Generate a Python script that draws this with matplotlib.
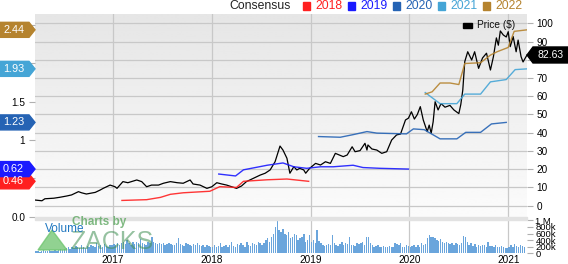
import matplotlib
matplotlib.use('Agg')
import matplotlib.pyplot as plt
import numpy as np
from matplotlib.patches import Polygon, Rectangle

plt.rcParams['font.family'] = ['Liberation Sans', 'DejaVu Sans']

# 价格 (decimal year, $)
price_t = [2016.21, 2016.28, 2016.31, 2016.40, 2016.46, 2016.53, 2016.58, 2016.65, 2016.68, 2016.73,
           2016.82, 2016.87, 2016.90, 2016.97, 2017.02, 2017.04, 2017.10, 2017.15, 2017.24, 2017.29,
           2017.34, 2017.39, 2017.46, 2017.51, 2017.58, 2017.65, 2017.71, 2017.78, 2017.81, 2017.88,
           2017.95, 2018.00, 2018.05, 2018.10, 2018.15, 2018.20, 2018.25, 2018.30, 2018.35, 2018.42,
           2018.49, 2018.54, 2018.59, 2018.64, 2018.69, 2018.72, 2018.76, 2018.79, 2018.83, 2018.86,
           2018.89, 2018.93, 2018.95, 2018.99, 2019.05, 2019.10, 2019.15, 2019.20, 2019.25, 2019.33,
           2019.37, 2019.42, 2019.45, 2019.50, 2019.55, 2019.57, 2019.58, 2019.62, 2019.67, 2019.72,
           2019.77, 2019.82, 2019.87, 2019.91, 2019.96, 2019.99, 2020.02, 2020.05, 2020.08, 2020.11,
           2020.14, 2020.18, 2020.20, 2020.22, 2020.24, 2020.26, 2020.29, 2020.32, 2020.36, 2020.41,
           2020.45, 2020.50, 2020.52, 2020.54, 2020.56, 2020.59, 2020.63, 2020.66, 2020.70, 2020.74,
           2020.78, 2020.82, 2020.85, 2020.88, 2020.90, 2020.92, 2020.95, 2020.98, 2021.00, 2021.02,
           2021.05, 2021.08, 2021.10, 2021.13, 2021.15, 2021.19]
price_v = [3.1, 2.7, 3.8, 4.1, 4.6, 5.3, 5.9, 7.7, 7.1, 6.4,
           7.3, 8.6, 9.5, 11.3, 10.4, 9.5, 13.2, 12.6, 14.1, 13.2,
           10.4, 11.3, 11.3, 12.3, 13.2, 12.6, 12.3, 14.1, 11.9, 11.3,
           9.5, 10.4, 12.6, 11.9, 11.3, 10.4, 9.5, 10.8, 13.2, 15.0,
           16.8, 17.8, 19.6, 24.1, 32.7, 30.5, 26.0, 17.8, 21.4, 19.6,
           20.5, 19.6, 17.8, 20.5, 23.2, 22.3, 24.1, 23.2, 28.7, 26.9,
           27.8, 32.3, 29.6, 30.2, 34.2, 30.5, 33.3, 31.1, 30.5, 28.7,
           29.6, 36.0, 38.8, 39.3, 47.0, 48.0, 51.5, 47.5, 50.0, 54.3,
           47.0, 40.6, 44.2, 39.7, 46.0, 57.0, 52.5, 56.0, 54.0, 55.0,
           52.5, 50.5, 55.5, 63.4, 79.0, 84.4, 79.9, 84.4, 75.3, 81.0,
           83.6, 74.4, 81.7, 92.0, 88.0, 95.8, 93.6, 92.5, 95.4, 87.2,
           92.7, 84.4, 90.8, 81.7, 78.8, 82.63]

# 一致预期 EPS
c18_t = [2017.09, 2017.34, 2017.48, 2017.58, 2017.71, 2017.98, 2018.08, 2018.25, 2018.32, 2018.56, 2018.76, 2018.98]
c18_v = [0.21, 0.22, 0.25, 0.29, 0.31, 0.33, 0.39, 0.38, 0.46, 0.48, 0.49, 0.46]
c19_t = [2018.07, 2018.24, 2018.32, 2018.56, 2018.72, 2018.83, 2018.96, 2019.10, 2019.23, 2019.43, 2019.53, 2019.70, 2019.99]
c19_v = [0.555, 0.53, 0.61, 0.67, 0.70, 0.65, 0.63, 0.65, 0.65, 0.67, 0.64, 0.63, 0.62]
c20_t = [2019.08, 2019.30, 2019.43, 2019.57, 2019.67, 2019.97, 2020.04, 2020.15, 2020.31, 2020.48, 2020.57, 2020.72, 2020.83, 2020.98]
c20_v = [1.045, 1.036, 1.07, 1.11, 1.09, 1.08, 1.145, 1.135, 1.015, 1.015, 1.10, 1.10, 1.21, 1.23]
c21_t = [2020.16, 2020.31, 2020.48, 2020.56, 2020.72, 2020.82, 2020.98, 2021.07, 2021.19]
c21_v = [1.62, 1.475, 1.475, 1.60, 1.60, 1.76, 1.79, 1.92, 1.93]
c22_t = [2020.16, 2020.23, 2020.31, 2020.41, 2020.50, 2020.56, 2020.72, 2020.82, 2020.89, 2021.00, 2021.06, 2021.19]
c22_v = [1.60, 1.63, 1.745, 1.745, 1.725, 2.00, 2.01, 2.11, 2.155, 2.21, 2.42, 2.44]

# 周成交量 (k)
vol_start = 2016.22
vol_k = [60, 80, 50, 70, 90, 60, 80, 100, 70, 60, 90, 80, 100, 120, 90,
         120, 150, 180, 140, 200, 160, 220, 180, 150, 250, 200, 170, 230, 190, 260, 210, 180, 300, 220, 250, 200, 280, 230, 190, 260, 240,
         280, 250, 320, 260, 300, 350, 280, 400, 300, 260, 330, 290, 350, 310, 420, 300, 280, 260, 330, 300, 480, 350, 300, 280, 320, 290,
         300, 250, 280, 320, 270, 240, 260, 300, 460, 280, 250, 230, 300, 270, 250, 220, 280, 260, 300, 240, 220, 260, 200, 250, 230, 180,
         200, 250, 180, 220, 300, 200, 230, 260, 190, 240, 350, 220, 200, 280, 240, 300, 250, 200, 330, 260, 220, 300, 280, 250, 350, 300,
         250, 300, 400, 450, 350, 500, 600, 800, 970, 700, 650, 750, 600, 550, 650, 450, 500, 600, 550, 400, 450, 500, 600, 350, 400, 550,
         350, 400, 300, 700, 380, 300, 250, 230, 250, 270, 240, 550, 300, 260, 230, 280, 350, 250, 300, 270, 500, 260, 240, 230, 300, 280,
         300, 350, 250, 500, 480, 300, 250, 200, 220, 250, 200, 180, 220, 200, 190, 230, 180, 200, 300, 280, 250, 320, 200, 180, 250, 230,
         200, 220, 250, 180, 240, 200, 300, 250, 280, 450, 550, 480, 500, 450, 400, 380, 420, 350, 300, 350, 320, 280, 300, 260, 320, 280,
         250, 300, 530, 480, 350, 250, 300, 220, 280, 200, 250, 230, 260, 240, 200, 350, 230, 220, 200, 250, 180, 200, 230, 190, 150, 170,
         200, 250, 180, 270, 220, 180, 250, 230, 200]

years = [2017, 2018, 2019, 2020, 2021]
eps_ticks = [0, 0.5, 1, 1.5, 2, 2.5]
eps_labels = ['0.0', '', '1', '1.5', '', '']   # 其余被左侧标签遮住
price_ticks = list(range(0, 101, 10))
price_labels = ['' if p == 80 else str(p) for p in price_ticks]   # 80 被价格标签遮住
vol_ticks = [0, 200, 400, 600, 800, 1000]
vol_labels = ['0', '200k', '400k', '600k', '800k', '1 M']

series = [('2018', c18_t, c18_v, '#ff2020'), ('2019', c19_t, c19_v, '#1a1aff'),
          ('2020', c20_t, c20_v, '#2563b4'), ('2021', c21_t, c21_v, '#45a5d6'),
          ('2022', c22_t, c22_v, '#b5832e')]

W, H = 568, 264
fig = plt.figure(figsize=(W / 100, H / 100), dpi=100)


def fx(px):
    return px / W


def fy(py):
    return 1 - py / H


X0, X1 = 2016.21, 2021.19
GRID = '#c8c8c8'
TICK = dict(length=4.5, width=0.8, color='#b0b0b0', pad=2.5, labelsize=7.2)

# 价格面板
axp = fig.add_axes([fx(35), fy(217), fx(527) - fx(35), fy(14) - fy(217)])
grad = np.linspace(0.985, 0.9, 100).reshape(-1, 1)
axp.imshow(grad, extent=[0, 1, 0, 1], transform=axp.transAxes, aspect='auto',
           cmap='gray', vmin=0, vmax=1, zorder=0, origin='lower')
axp.set_xlim(X0, X1)
axp.set_ylim(-6.2, 105.1)
axp.set_xticks(years)
axp.set_yticks(price_ticks)
axp.set_yticklabels(price_labels)
axp.grid(True, color=GRID, lw=0.9)
for s in axp.spines.values():
    s.set_visible(False)
axp.plot(price_t, price_v, color='black', lw=0.9, zorder=3)

# EPS 轴 (左)
axe = axp.twinx()
axe.set_ylim(-0.0065, 2.647)
axe.set_xlim(X0, X1)
axe.yaxis.tick_left()
axe.set_yticks(eps_ticks)
axe.set_yticklabels(eps_labels)
axe.tick_params(axis='y', **TICK)
for s in axe.spines.values():
    s.set_visible(False)
for name, t, v, c in series:
    axe.plot(t, v, color=c, lw=1.0, alpha=0.9)

# twinx 会把原轴刻度移到左边，这里再放回右边
axp.yaxis.tick_right()
axp.tick_params(axis='y', **TICK)
axp.tick_params(axis='x', length=0, labelbottom=False)

# 成交量面板
axv = fig.add_axes([fx(35), fy(253.3), fx(527) - fx(35), fy(220.3) - fy(253.3)])
vt = vol_start + np.arange(len(vol_k)) / 52
axv.bar(vt, vol_k, width=0.75 / 52, color='#6aa5dc', edgecolor='none')
axv.set_xlim(X0, X1)
axv.set_ylim(0, 1000)
axv.set_xticks(years)
axv.set_xticklabels([str(y) for y in years])
axv.tick_params(axis='x', length=0, pad=1, labelsize=7.2)
axv.yaxis.tick_right()
axv.set_yticks(vol_ticks)
axv.set_yticklabels(vol_labels)
axv.tick_params(axis='y', length=4, width=0.8, color='#b0b0b0', pad=2, labelsize=6.8)
axv.grid(True, axis='x', color=GRID, lw=0.9)
axv.set_axisbelow(True)
for s in axv.spines.values():
    s.set_visible(False)

# 分隔条
fig.patches.append(Rectangle((fx(35), fy(220)), fx(527) - fx(35), fy(217) - fy(220),
                             transform=fig.transFigure, color='#e2e2e2'))

# 顶部图例
fig.text(fx(229), fy(6), 'Consensus', fontsize=8.8, color='#222222', va='center')
for i, (name, t, v, c) in enumerate(series):
    x = 303 + 45 * i
    fig.patches.append(Rectangle((fx(x), fy(9.5)), fx(7), fy(2) - fy(9.5),
                                 transform=fig.transFigure, color=c))
    fig.text(fx(x + 12), fy(6), name, fontsize=8.8, color=c, va='center')

# Price 图例
fig.patches.append(Rectangle((fx(463), fy(27.5)), fx(9), fy(23) - fy(27.5),
                             transform=fig.transFigure, color='black'))
fig.text(fx(477), fy(25), 'Price ($)', fontsize=7.3, color='#111111', va='center')


def py_of(axis, v):
    return H - axis.transData.transform((X1, v))[1]


# 左侧标签
for name, t, v, c in series:
    y = py_of(axe, v[-1])
    pts = [(0, y - 7.5), (29, y - 7.5), (35, y), (29, y + 7.5), (0, y + 7.5)]
    fig.patches.append(Polygon([(fx(a), fy(b)) for a, b in pts], closed=True,
                               transform=fig.transFigure, color=c))
    fig.text(fx(3), fy(y), f'{v[-1]:.2f}', fontsize=7.8, color='white', va='center')

# 右侧价格标签
y = py_of(axp, price_v[-1])
pts = [(527, y), (533, y - 8), (568, y - 8), (568, y + 8), (533, y + 8)]
fig.patches.append(Polygon([(fx(a), fy(b)) for a, b in pts], closed=True,
                           transform=fig.transFigure, color='black'))
fig.text(fx(537), fy(y), f'{price_v[-1]:.2f}', fontsize=7.5, color='white', va='center')

# 水印
tri = [(38, 250), (52, 230), (67, 250)]
fig.patches.append(Polygon([(fx(a), fy(b)) for a, b in tri], closed=True,
                           transform=fig.transFigure, color='#6cc46c', alpha=0.75))
fig.text(fx(72), fy(222), 'Charts by', fontsize=8.5, fontweight='bold', color='#5fa862',
         alpha=0.8, va='center')
fig.text(fx(70), fy(242), 'ZACKS', fontsize=18, color='#3f8f52', alpha=0.55, va='center')
fig.text(fx(45), fy(228.5), 'Volume', fontsize=8.5, color='#1f77c0', va='center')

fig.savefig('out.png', dpi=100)
